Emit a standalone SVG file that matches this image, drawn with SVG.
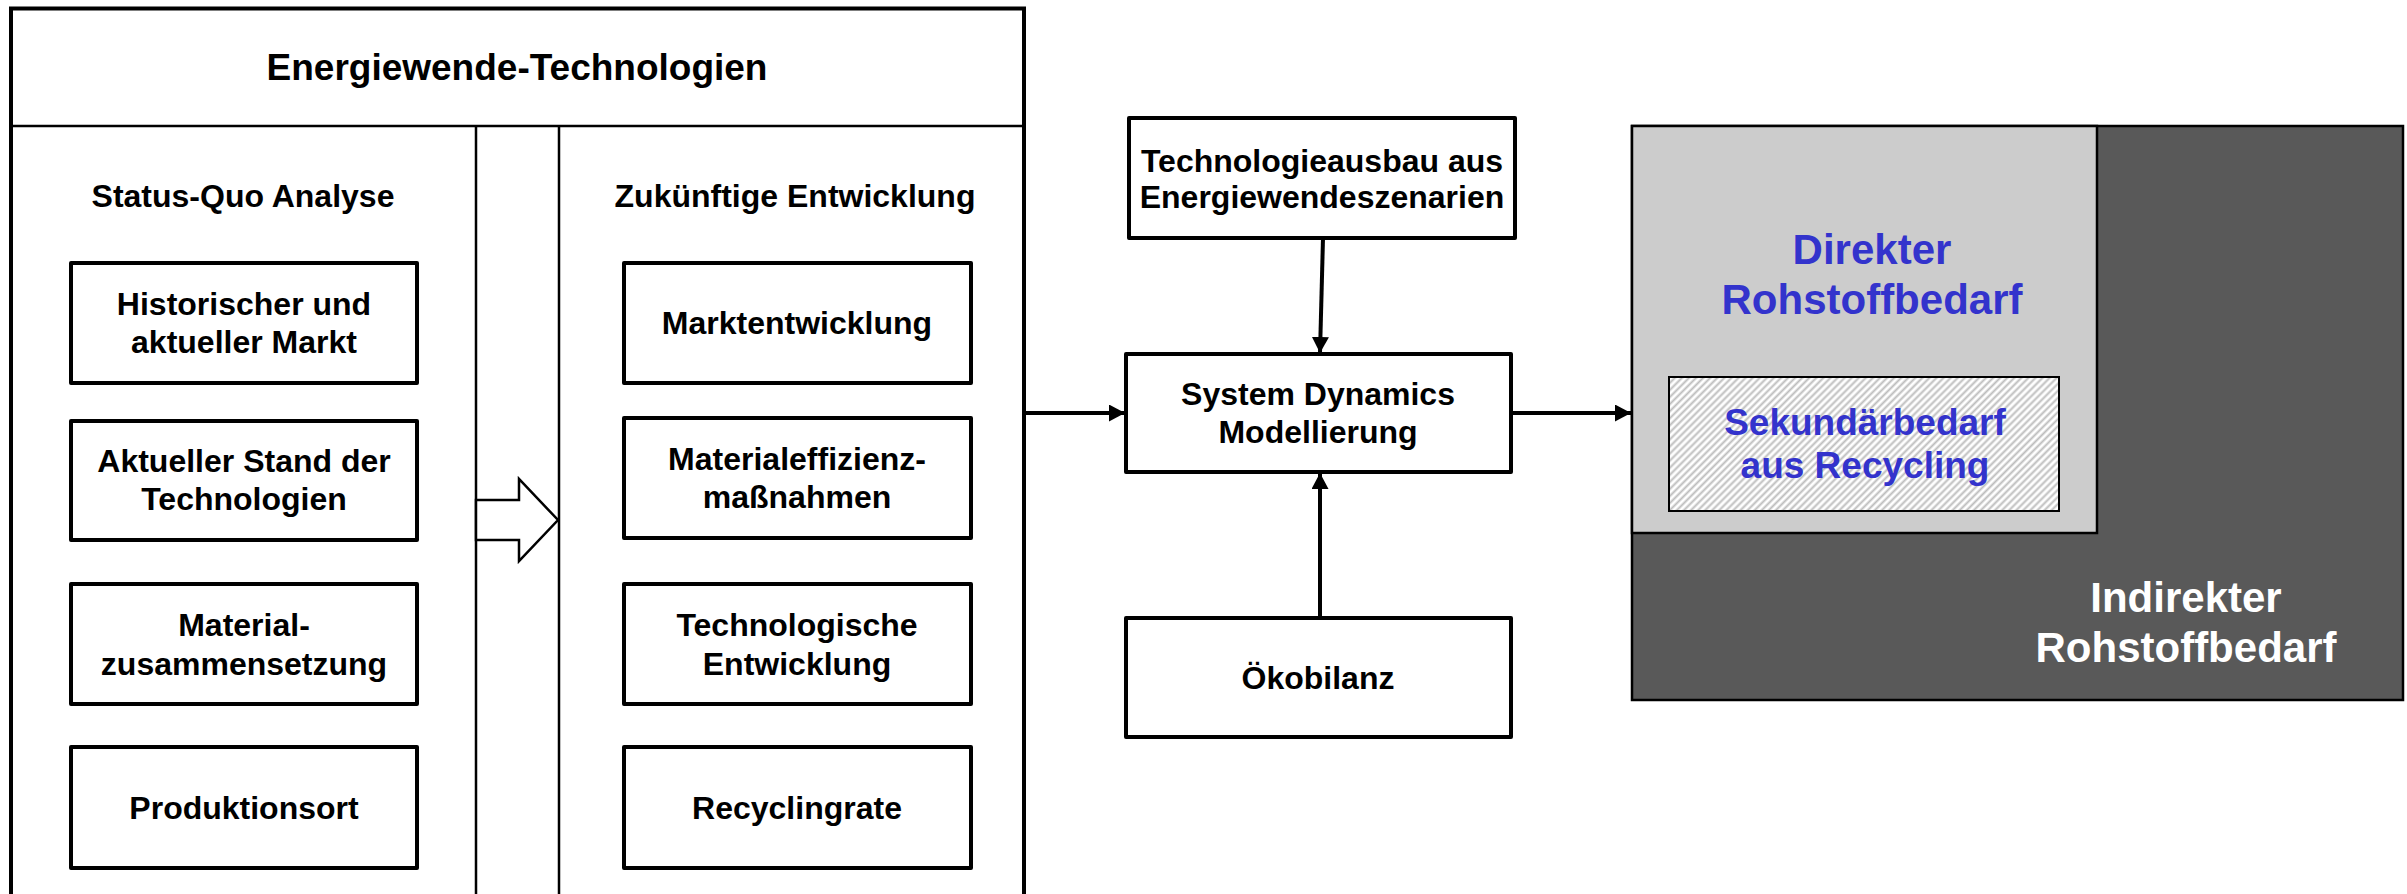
<svg xmlns="http://www.w3.org/2000/svg" width="2407" height="894" viewBox="0 0 2407 894">
  <defs>
    <style>
      text { font-family: "Liberation Sans", Arial, sans-serif; font-weight: bold; text-anchor: middle; }
      .t32 { font-size: 32px; fill: #000; }
      .hdr { font-size: 37px; fill: #000; }
      .blue { font-size: 42px; fill: #3333cc; }
      .blue2 { font-size: 37px; fill: #3333cc; }
      .white { font-size: 42px; fill: #ffffff; }
      .box { fill: #ffffff; stroke: #000; stroke-width: 4; stroke-linejoin: round; }
      .conn { stroke: #000; stroke-width: 4; fill: none; }
    </style>
    <marker id="arr" markerUnits="userSpaceOnUse" markerWidth="18" markerHeight="18" refX="16" refY="8.5" orient="auto">
      <path d="M0,0 L16,8.5 L0,17 z" fill="#000"/>
    </marker>
    <pattern id="hatch" patternUnits="userSpaceOnUse" width="5" height="5" patternTransform="rotate(45)">
      <rect width="5" height="5" fill="#ffffff"/>
      <line x1="1.5" y1="0" x2="1.5" y2="5" stroke="#bdbdbd" stroke-width="2"/>
    </pattern>
  </defs>

  <g id="energiewende-technologien">
    <rect x="11" y="8.5" width="1013" height="900" fill="#fff" stroke="#000" stroke-width="4"/>
    <line x1="11" y1="126" x2="1024" y2="126" stroke="#000" stroke-width="2.5"/>
    <line x1="476" y1="126" x2="476" y2="900" stroke="#000" stroke-width="2.5"/>
    <line x1="559" y1="126" x2="559" y2="900" stroke="#000" stroke-width="2.5"/>
    <text class="hdr" x="517" y="80">Energiewende-Technologien</text>
    <text class="t32" x="243" y="207">Status-Quo Analyse</text>
    <text class="t32" x="795" y="207">Zukünftige Entwicklung</text>
    <polygon points="476,500 519,500 519,479 558,520 519,561 519,540 476,540" fill="#fff" stroke="#000" stroke-width="2.5" stroke-linejoin="miter"/>
  </g>

  <g id="historischer-markt">
    <rect class="box" x="71" y="263" width="346" height="120"/>
    <text class="t32" x="244" y="315">Historischer und</text>
    <text class="t32" x="244" y="353">aktueller Markt</text>
  </g>
  <g id="stand-technologien">
    <rect class="box" x="71" y="421" width="346" height="119"/>
    <text class="t32" x="244" y="472">Aktueller Stand der</text>
    <text class="t32" x="244" y="510">Technologien</text>
  </g>
  <g id="materialzusammensetzung">
    <rect class="box" x="71" y="584" width="346" height="120"/>
    <text class="t32" x="244" y="636">Material-</text>
    <text class="t32" x="244" y="675">zusammensetzung</text>
  </g>
  <g id="produktionsort">
    <rect class="box" x="71" y="747" width="346" height="121"/>
    <text class="t32" x="244" y="819">Produktionsort</text>
  </g>

  <g id="marktentwicklung">
    <rect class="box" x="624" y="263" width="347" height="120"/>
    <text class="t32" x="797" y="334">Marktentwicklung</text>
  </g>
  <g id="materialeffizienz">
    <rect class="box" x="624" y="418" width="347" height="120"/>
    <text class="t32" x="797" y="470">Materialeffizienz-</text>
    <text class="t32" x="797" y="508">maßnahmen</text>
  </g>
  <g id="technologische-entwicklung">
    <rect class="box" x="624" y="584" width="347" height="120"/>
    <text class="t32" x="797" y="636">Technologische</text>
    <text class="t32" x="797" y="675">Entwicklung</text>
  </g>
  <g id="recyclingrate">
    <rect class="box" x="624" y="747" width="347" height="121"/>
    <text class="t32" x="797" y="819">Recyclingrate</text>
  </g>

  <g id="technologieausbau">
    <rect class="box" x="1129" y="118" width="386" height="120"/>
    <text class="t32" x="1322" y="172">Technologieausbau aus</text>
    <text class="t32" x="1322" y="208">Energiewendeszenarien</text>
  </g>
  <g id="system-dynamics">
    <rect class="box" x="1126" y="354" width="385" height="118"/>
    <text class="t32" x="1318" y="405">System Dynamics</text>
    <text class="t32" x="1318" y="443">Modellierung</text>
  </g>
  <g id="oekobilanz">
    <rect class="box" x="1126" y="618" width="385" height="119"/>
    <text class="t32" x="1318" y="689">Ökobilanz</text>
  </g>

  <g id="rohstoffbedarf">
    <rect x="1632" y="126" width="771" height="574" fill="#595959" stroke="#000" stroke-width="2.5"/>
    <rect x="1632" y="126" width="465" height="407" fill="#cccccc" stroke="#000" stroke-width="2.5"/>
    <text class="blue" x="1872" y="264">Direkter</text>
    <text class="blue" x="1872" y="314">Rohstoffbedarf</text>
    <text class="white" x="2186" y="612">Indirekter</text>
    <text class="white" x="2186" y="662">Rohstoffbedarf</text>
  </g>
  <g id="sekundaerbedarf">
    <rect x="1669" y="377" width="390" height="134" fill="url(#hatch)" stroke="#000" stroke-width="2"/>
    <text class="blue2" x="1865" y="435">Sekundärbedarf</text>
    <text class="blue2" x="1865" y="478">aus Recycling</text>
  </g>

  <g id="connectors">
    <line class="conn" x1="1026" y1="413" x2="1125" y2="413" marker-end="url(#arr)"/>
    <line class="conn" x1="1511" y1="413" x2="1631" y2="413" marker-end="url(#arr)"/>
    <line class="conn" x1="1323" y1="238" x2="1320" y2="353" marker-end="url(#arr)"/>
    <line class="conn" x1="1320" y1="617" x2="1320" y2="473" marker-end="url(#arr)"/>
  </g>
</svg>
